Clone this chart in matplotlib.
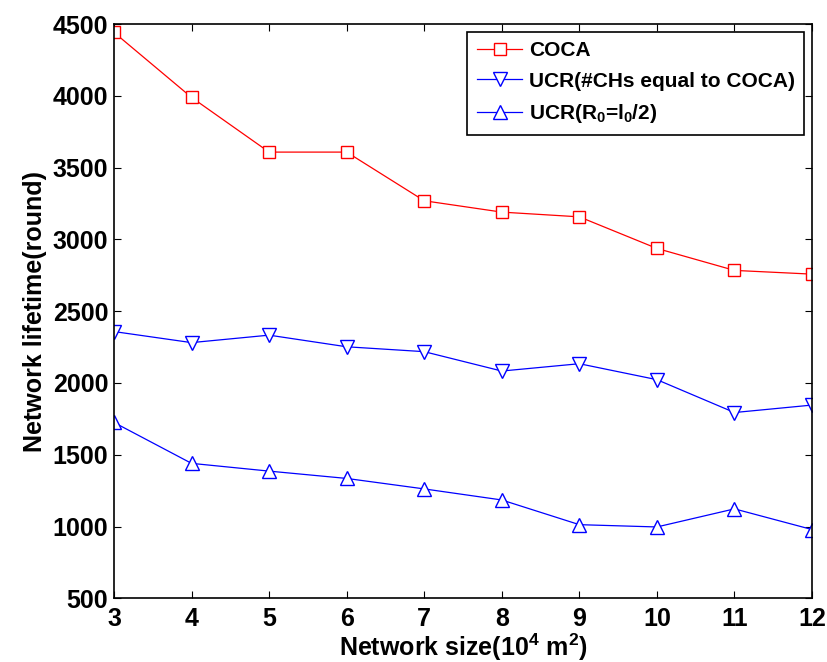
import matplotlib
matplotlib.use('Agg')
import matplotlib.pyplot as plt

# network size (10^4 m^2)
sizes = [3, 4, 5, 6, 7, 8, 9, 10, 11, 12]
coca = [4442, 3989, 3608, 3608, 3269, 3190, 3157, 2937, 2784, 2758]
ucr_same_chs = [2358, 2281, 2333, 2252, 2218, 2083, 2134, 2023, 1794, 1846]
ucr_half_r0 = [1725, 1440, 1386, 1335, 1262, 1185, 1013, 997, 1123, 979]

labels = ['COCA', 'UCR(#CHs equal to COCA)', 'UCR(R$_0$=l$_0$/2)']
yticks = [500, 1000, 1500, 2000, 2500, 3000, 3500, 4000, 4500]

plt.rcParams['font.family'] = ['Liberation Sans', 'DejaVu Sans']
plt.rcParams['font.weight'] = 'bold'
plt.rcParams['mathtext.fontset'] = 'custom'
plt.rcParams['mathtext.rm'] = 'Liberation Sans:bold'
plt.rcParams['mathtext.it'] = 'Liberation Sans:bold'
plt.rcParams['mathtext.bf'] = 'Liberation Sans:bold'
plt.rcParams['mathtext.default'] = 'rm'

fig = plt.figure(figsize=(8.27, 6.62), dpi=100)
ax = fig.add_axes([0.1378, 0.0962, 0.8441, 0.8675])

ax.plot(sizes, coca, color='#ff0000', lw=0.9, marker='s', ms=9,
        mfc='white', mec='#ff0000', mew=1.0, label=labels[0])
ax.plot(sizes, ucr_same_chs, color='#0000ff', lw=0.9, marker='v', ms=10,
        mfc='white', mec='#0000ff', mew=1.0, label=labels[1])
ax.plot(sizes, ucr_half_r0, color='#0000ff', lw=0.9, marker='^', ms=10,
        mfc='white', mec='#0000ff', mew=1.0, label=labels[2])

ax.set_xlim(3, 12)
ax.set_ylim(500, 4500)
ax.set_xticks(sizes)
ax.set_yticks(yticks)
ax.tick_params(direction='in', length=5, width=0.8, top=True, right=True,
               labelsize=18)
ax.tick_params(axis='x', pad=6)
ax.tick_params(axis='y', pad=4)
for lab in ax.get_xticklabels() + ax.get_yticklabels():
    lab.set_fontweight('bold')
for s in ax.spines.values():
    s.set_linewidth(1.2)

ax.set_xlabel('Network size(10$^4$ m$^2$)', fontsize=18, fontweight='bold', labelpad=1)
ax.set_ylabel('Network lifetime(round)', fontsize=18, fontweight='bold', labelpad=4)

leg = ax.legend(loc='upper right', fontsize=15, fancybox=False, framealpha=1,
                edgecolor='black', borderaxespad=0.38, handlelength=2.2,
                handletextpad=0.3, labelspacing=0.55, borderpad=0.45)
leg.get_frame().set_linewidth(1.2)
for t in leg.get_texts():
    t.set_fontweight('bold')

fig.savefig('out.png', dpi=100)
